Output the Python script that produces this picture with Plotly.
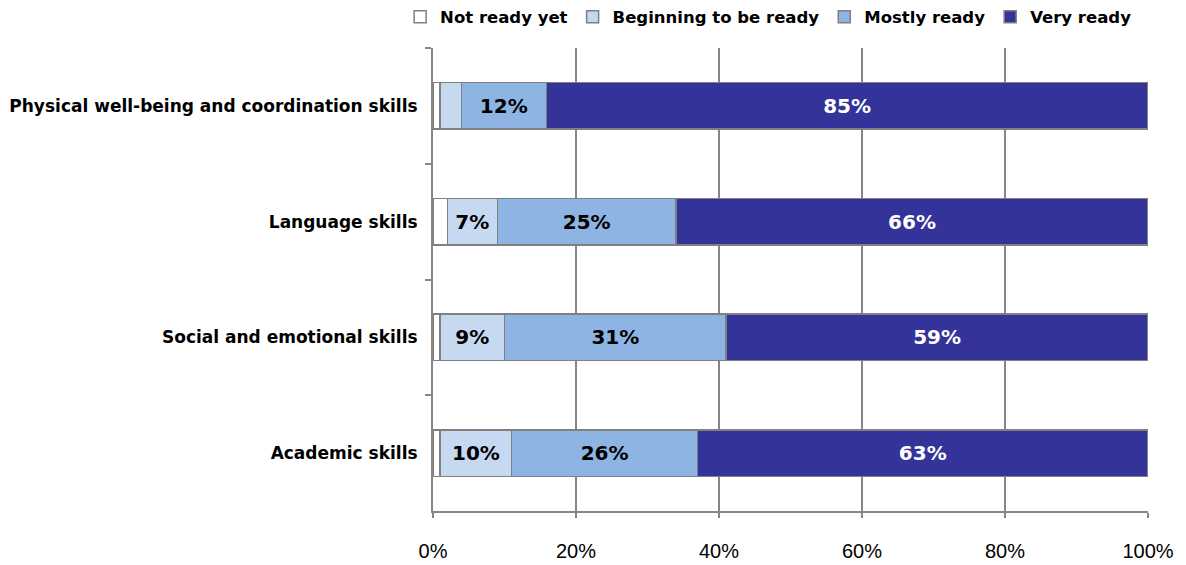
import plotly.graph_objects as go

# Readiness ratings by skill area (shares in percent, normalised per row)
skills = [
    "Physical well-being and coordination skills",
    "Language skills",
    "Social and emotional skills",
    "Academic skills",
]
not_ready = [1, 2, 1, 1]
beginning = [3, 7, 9, 10]
mostly = [12, 25, 31, 26]
very = [85, 66, 59, 63]

series = [
    ("Not ready yet", not_ready, "#FFFFFF", "#000000"),
    ("Beginning to be ready", beginning, "#C6D9F1", "#000000"),
    ("Mostly ready", mostly, "#8EB4E3", "#000000"),
    ("Very ready", very, "#333399", "#FFFFFF"),
]

label_font = "'DejaVu Sans', Verdana, sans-serif"

fig = go.Figure()
for name, vals, color, txtcolor in series:
    fig.add_trace(go.Bar(
        name=name,
        y=skills,
        x=vals,
        orientation="h",
        width=0.4,
        marker=dict(color=color, line=dict(color="#808080", width=1.5)),
        text=[f"{v}%" if v >= 5 else "" for v in vals],
        textposition="inside",
        insidetextanchor="middle",
        textangle=0,
        constraintext="none",
        textfont=dict(family=label_font, size=20, color=txtcolor, weight="bold"),
        hoverinfo="skip",
    ))

fig.update_layout(
    barmode="stack",
    barnorm="percent",
    width=1186,
    height=565,
    margin=dict(l=433, r=38, t=48, b=54, autoexpand=False),
    paper_bgcolor="white",
    plot_bgcolor="white",
    showlegend=True,
    legend=dict(
        orientation="h",
        x=-0.046,
        xanchor="left",
        y=1.029,
        yanchor="bottom",
        font=dict(family=label_font, size=16.5, color="#000000", weight="bold"),
        traceorder="normal",
        itemwidth=30,
    ),
    xaxis=dict(
        range=[0, 100],
        tickvals=[0, 20, 40, 60, 80, 100],
        ticktext=["0%", "20%", "40%", "60%", "80%", "100%"],
        showgrid=True,
        gridcolor="#868686",
        gridwidth=2,
        showline=True,
        linecolor="#868686",
        linewidth=2,
        ticks="outside",
        ticklen=5,
        tickwidth=2,
        tickcolor="#868686",
        ticklabelstandoff=16,
        tickfont=dict(family="'Liberation Sans Narrow', 'Liberation Sans', sans-serif", size=20, color="#000000"),
        zeroline=False,
        automargin=False,
        fixedrange=True,
    ),
    yaxis=dict(
        categoryorder="array",
        categoryarray=skills,
        autorange="reversed",
        showline=True,
        linecolor="#868686",
        linewidth=2,
        ticks="outside",
        tickson="boundaries",
        ticklen=6,
        tickwidth=2,
        tickcolor="#868686",
        ticklabelstandoff=10,
        tickfont=dict(family=label_font, size=17, color="#000000", weight="bold"),
        showgrid=False,
        automargin=False,
        fixedrange=True,
    ),
)

fig.write_html("out.html")
